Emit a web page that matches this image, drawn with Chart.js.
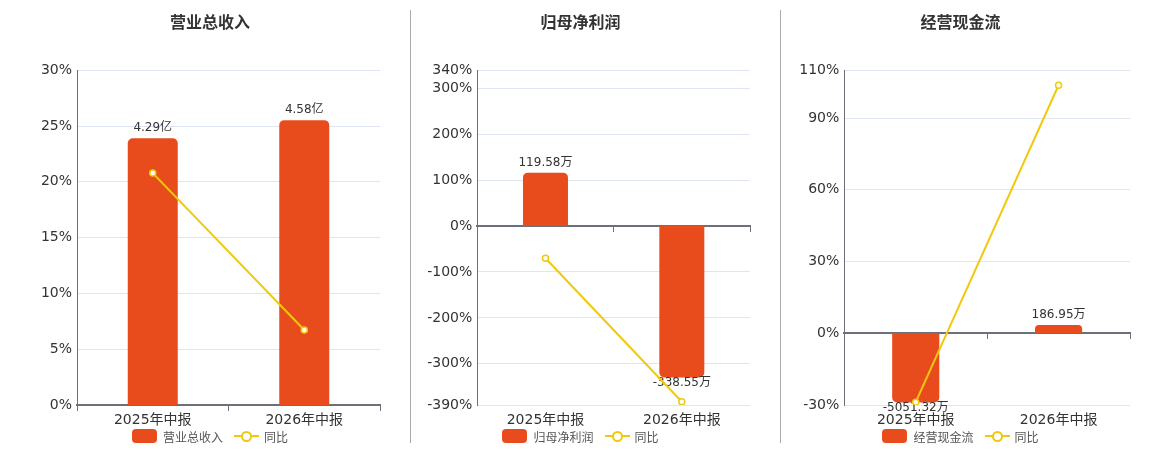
<!DOCTYPE html>
<html>
<head>
<meta charset="utf-8">
<script src="https://cdn.jsdelivr.net/npm/chart.js@4.4.1/dist/chart.umd.min.js"></script>
<style>
body { margin: 0; background: #fff; width: 1160px; height: 450px; position: relative; overflow: hidden; font-family: "DejaVu Sans", "Noto Sans CJK SC", sans-serif; }
.box { position: absolute; top: 0; height: 450px; }
.sep { position: absolute; top: 10px; height: 433px; width: 1px; background: #aaa; z-index: 2; }
.legend { position: absolute; top: 428px; height: 16px; width: 240px; display: flex; justify-content: center; align-items: center; font-size: 12px; color: #555; }
.legend .bi { width: 25px; height: 14px; border-radius: 4px; background: #e84c1d; margin-right: 6px; }
.legend .li { position: relative; width: 25px; height: 14px; margin-right: 5px; }
.legend .li::before { content: ''; position: absolute; left: 0; right: 0; top: 6px; height: 2px; background: #f2c80f; }
.legend .li::after { content: ''; position: absolute; left: 7px; top: 2px; width: 7px; height: 7px; border: 2px solid #f2c80f; border-radius: 50%; background: #fff; }
.legend .gap { width: 11px; }
</style>
</head>
<body>
<div class="box" style="left:0;width:420px"><canvas id="c1"></canvas></div>
<div class="box" style="left:405px;width:351px"><canvas id="c2"></canvas></div>
<div class="box" style="left:785px;width:351px"><canvas id="c3"></canvas></div>
<div class="sep" style="left:410px"></div>
<div class="sep" style="left:780px"></div>
<div class="legend" id="l1" style="left:90px"></div>
<div class="legend" id="l2" style="left:460.5px"></div>
<div class="legend" id="l3" style="left:840.5px"></div>
<script>
// 报告期
const categories = ['2025年中报', '2026年中报'];

// 营业总收入 (亿) 与同比 (%)
const revenue = [4.29, 4.58];
const revenueYoy = [20.78, 6.72];
const revenueTicks = [0, 5, 10, 15, 20, 25, 30];

// 归母净利润 (万) 与同比 (%)
const profit = [119.58, -338.55];
const profitYoy = [-70.1, -383];
const profitTicks = [-390, -300, -200, -100, 0, 100, 200, 300, 340];

// 经营现金流 (万) 与同比 (%)
const cashflow = [-5051.32, 186.95];
const cashflowYoy = [-28.8, 103.7];
const cashflowTicks = [-30, 0, 30, 60, 90, 110];

const RED = '#e84c1d';
const YELLOW = '#f2c80f';
const AXIS = '#6e7079';

Chart.defaults.font.family = '"DejaVu Sans", "Noto Sans CJK SC", sans-serif';
Chart.defaults.color = '#333';

// 柱子上的数值标签, 画在折线之前
const barLabels = {
    id: 'barLabels',
    afterDatasetDraw(chart, args, opts) {
        if (args.index !== 0) return;
        const ctx = chart.ctx;
        const values = chart.data.datasets[0].data;
        ctx.save();
        ctx.font = '12px "DejaVu Sans", "Noto Sans CJK SC", sans-serif';
        ctx.fillStyle = '#333';
        ctx.textAlign = 'center';
        ctx.textBaseline = 'middle';
        args.meta.data.forEach((el, i) => {
            const v = values[i];
            const y = v >= 0 ? el.y - 10 : el.y + 5;
            ctx.fillText(v.toFixed(2) + opts.unit, el.x, y);
        });
        ctx.restore();
    }
};

function makeLegend(id, chart) {
    const ds = chart.data.datasets;
    const el = document.getElementById(id);
    el.innerHTML = '<span class="bi"></span><span>' + ds[0].label + '</span><span class="gap"></span>' +
        '<span class="li"></span><span>' + ds[1].label + '</span>';
}

function makeChart(id, legendId, title, name, bars, yoy, ticks, barMin, barMax, unit, leftW, rightW) {
    const chart = new Chart(document.getElementById(id), {
        type: 'bar',
        data: {
            labels: categories,
            datasets: [{
                type: 'bar',
                label: name,
                data: bars,
                backgroundColor: RED,
                borderRadius: 5,
                borderSkipped: 'start',
                barPercentage: 0.33,
                categoryPercentage: 1,
                minBarLength: 8,
                xAxisID: 'x',
                yAxisID: 'y1',
                order: 2
            }, {
                type: 'line',
                label: '同比',
                data: yoy,
                borderColor: YELLOW,
                borderWidth: 2,
                pointRadius: 3,
                pointBackgroundColor: '#fff',
                pointBorderColor: YELLOW,
                pointBorderWidth: 1.5,
                tension: 0,
                xAxisID: 'x',
                yAxisID: 'y',
                order: 1
            }]
        },
        plugins: [barLabels],
        options: {
            responsive: true,
            maintainAspectRatio: false,
            animation: false,
            layout: { padding: { bottom: 20 } },
            scales: {
                x: {
                    position: { y: 0 },
                    offset: true,
                    ticks: { display: false },
                    grid: { display: true, drawOnChartArea: false, drawTicks: true, tickLength: 5, color: AXIS, offset: true },
                    border: { display: true, color: AXIS, width: 2 }
                },
                x2: {
                    type: 'category',
                    position: 'bottom',
                    offset: true,
                    grid: { display: false, drawTicks: false },
                    border: { display: false },
                    ticks: { color: '#333', font: { size: 14 }, padding: 7 },
                    afterFit: s => { s.height = 25; }
                },
                y: {
                    position: 'left',
                    min: ticks[0],
                    max: ticks[ticks.length - 1],
                    afterBuildTicks: s => { s.ticks = ticks.map(v => ({ value: v })); },
                    ticks: { callback: v => v + '%', color: '#333', font: { size: 14 }, padding: 5 },
                    grid: { color: '#e0e6f1', drawTicks: false },
                    border: { display: true, color: AXIS },
                    afterFit: s => { s.width = leftW; }
                },
                y1: {
                    position: 'right',
                    min: barMin,
                    max: barMax,
                    ticks: { display: false },
                    grid: { display: false },
                    border: { display: false },
                    afterFit: s => { s.width = rightW; }
                }
            },
            plugins: {
                title: {
                    display: true,
                    text: title,
                    color: '#333',
                    font: { size: 16, weight: 'bold' },
                    padding: { top: 14, bottom: 37 }
                },
                legend: { display: false },
                tooltip: { enabled: false },
                barLabels: { unit: unit }
            }
        }
    });
    makeLegend(legendId, chart);
}

makeChart('c1', 'l1', '营业总收入', '营业总收入', revenue, revenueYoy, revenueTicks, 0, 5.383, '亿', 77, 40);
makeChart('c2', 'l2', '归母净利润', '归母净利润', profit, profitYoy, profitTicks, -400, 348.6, '万', 72.3, 6);
makeChart('c3', 'l3', '经营现金流', '经营现金流', cashflow, cashflowYoy, cashflowTicks, -5240, 19100, '万', 59.3, 6);
</script>
</body>
</html>
